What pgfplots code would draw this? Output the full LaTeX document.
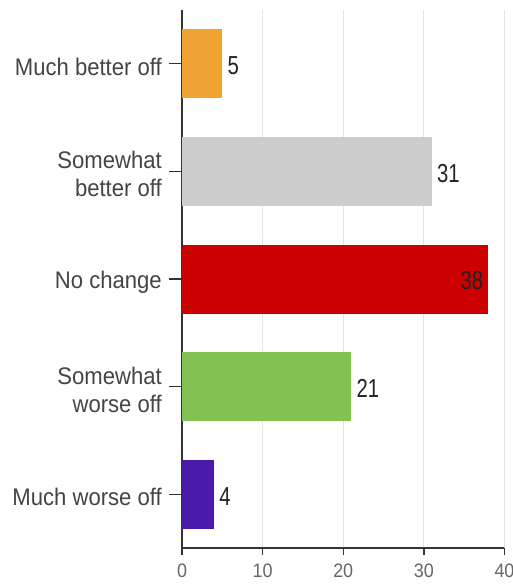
\documentclass[border=0pt]{standalone}
\usepackage{fontspec}
\setmainfont{Liberation Sans}[FakeStretch=0.92]
\newfontfamily\valfont{Liberation Sans}[FakeStretch=0.78]
\usepackage{pgfplots}
\pgfplotsset{compat=1.18}
\definecolor{axisc}{HTML}{333333}
\definecolor{gridc}{HTML}{E3E3E3}
\definecolor{labc}{HTML}{444444}
\definecolor{tickc}{HTML}{666666}
\definecolor{valc}{HTML}{222222}
\definecolor{c1}{HTML}{F0A232}
\definecolor{c2}{HTML}{CDCDCD}
\definecolor{c3}{HTML}{CC0000}
\definecolor{c4}{HTML}{82C252}
\definecolor{c5}{HTML}{4A1BAA}
\begin{document}
\begin{tikzpicture}
\begin{axis}[
  at={(0pt,0pt)}, anchor=south west,
  scale only axis, width=322.5pt, height=538pt,
  xbar, bar shift=0pt, bar width=69pt,
  xmin=0, xmax=40, ymin=-0.5, ymax=4.5, y dir=reverse,
  axis x line*=bottom, axis y line*=left,
  axis line style={draw=axisc, line width=1.3pt, -},
  tick align=outside, major tick length=7pt,
  tick style={draw=axisc, line width=1.3pt},
  xtick={0,10,20,30,40},
  ytick=\empty,
  extra y ticks={0,1,2,3,4},
  extra y tick labels={Much better off, {Somewhat\\better off}, No change, {Somewhat\\worse off}, Much worse off},
  extra y tick style={major tick length=13pt, yticklabel style={align=right, font=\fontsize{24}{28}\selectfont, text=labc, inner sep=0pt, xshift=-7pt, yshift=-3pt}},
  xticklabel style={font=\fontsize{19.5}{21}\selectfont, text=tickc, inner sep=0pt, yshift=-9pt},
  /pgf/number format/assume math mode=true,
  xmajorgrids, major grid style={draw=gridc, line width=1pt},
  nodes near coords,
  nodes near coords style={font=\valfont\fontsize{26}{28}\selectfont, text=valc, inner sep=0pt, anchor=west, xshift=5pt, yshift=-2pt},
]
\addplot[fill=c1, draw=none] coordinates {(5,0)};
\addplot[fill=c2, draw=none] coordinates {(31,1)};
\addplot[fill=c3, draw=none, nodes near coords style={anchor=east, xshift=-10pt}] coordinates {(38,2)};
\addplot[fill=c4, draw=none] coordinates {(21,3)};
\addplot[fill=c5, draw=none] coordinates {(4,4)};
\end{axis}
\pgfresetboundingbox
\path[use as bounding box] (-182pt,-36pt) rectangle (331pt,548pt);
\end{tikzpicture}
\end{document}
